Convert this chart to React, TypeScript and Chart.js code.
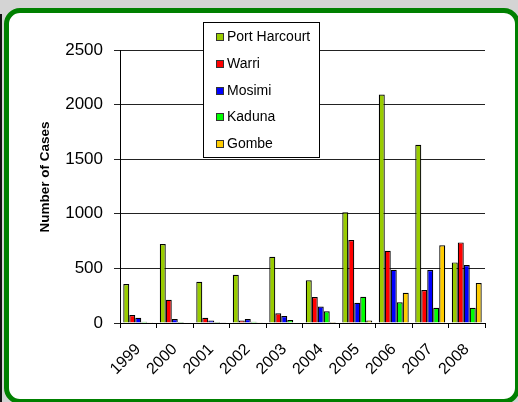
import React, { useEffect, useRef } from "react";
import { Chart, registerables } from "chart.js";

Chart.register(...registerables);

const years = ["1999", "2000", "2001", "2002", "2003", "2004", "2005", "2006", "2007", "2008"];
const portHarcourt = [357, 723, 378, 442, 607, 391, 1014, 2092, 1633, 555];
const warri = [73, 213, 48, 24, 89, 238, 760, 662, 302, 738];
const mosimi = [48, 37, 24, 37, 64, 150, 186, 488, 485, 531];
const kaduna = [12, 10, 10, 12, 27, 107, 241, 189, 140, 140];
const gombe = [8, 5, 3, 8, 5, 10, 24, 277, 711, 366];
const seriesNames = ["Port Harcourt", "Warri", "Mosimi", "Kaduna", "Gombe"];
const seriesColors = ["#99cc00", "#ff0000", "#0000ff", "#00ff00", "#ffcc00"];
const yTickStep = 500;
const yMax = 2500;
const yTitle = "Number of Cases";

const FONT = '"Liberation Sans", Arial, sans-serif';

const overlayPlugin = {
  id: "overlayPlugin",
  afterDraw(chart: any) {
    const ctx = chart.ctx;
    const ca = chart.chartArea;
    ctx.save();
    // legend box
    const lx = Math.round(ca.left + 83) + 0.5;
    const ly = Math.round(ca.top - 28) + 0.5;
    const lw = 116;
    const lh = 135;
    ctx.fillStyle = "#ffffff";
    ctx.fillRect(lx, ly, lw, lh);
    ctx.strokeStyle = "#000";
    ctx.lineWidth = 1;
    ctx.strokeRect(lx, ly, lw, lh);
    chart.data.datasets.forEach((ds: any, i: number) => {
      const cy = Math.round(ly + 14.5 + i * 26.75);
      ctx.fillStyle = ds.backgroundColor;
      ctx.fillRect(lx + 13, cy - 3.5, 7, 7);
      ctx.strokeStyle = "#333";
      ctx.strokeRect(lx + 13, cy - 3.5, 7, 7);
      ctx.fillStyle = "#000";
      ctx.font = "14px " + FONT;
      ctx.textBaseline = "middle";
      ctx.textAlign = "left";
      ctx.fillText(ds.label, lx + 23.5, cy + 0.5);
    });
    // y axis title
    ctx.translate(45, 177);
    ctx.rotate(-Math.PI / 2);
    ctx.font = "bold 13.5px " + FONT;
    ctx.textAlign = "center";
    ctx.textBaseline = "middle";
    ctx.fillStyle = "#000";
    ctx.fillText(yTitle, 0, 0);
    ctx.restore();
  },
};

export default function App() {
  const ref = useRef<HTMLCanvasElement | null>(null);

  useEffect(() => {
    if (!ref.current) return;
    const allSeries = [portHarcourt, warri, mosimi, kaduna, gombe];
    const chart = new Chart(ref.current, {
      type: "bar",
      data: {
        labels: years,
        datasets: allSeries.map((d, i) => ({
          label: seriesNames[i],
          data: d,
          backgroundColor: seriesColors[i],
          borderColor: "#000",
          borderWidth: 1.2,
          barPercentage: 1,
          categoryPercentage: 0.82,
        })),
      },
      options: {
        responsive: false,
        animation: false,
        layout: { padding: { left: 0, top: 50, right: 33, bottom: 0 } },
        plugins: {
          legend: { display: false },
          tooltip: { enabled: false },
          title: { display: false },
        },
        scales: {
          x: {
            afterFit: (s: any) => {
              s.height = 79;
            },
            grid: {
              offset: true,
              drawOnChartArea: false,
              drawTicks: true,
              tickLength: 5,
              color: "#000",
            },
            border: { display: true, color: "#000", width: 1 },
            ticks: {
              minRotation: 45,
              maxRotation: 45,
              autoSkip: false,
              color: "#000",
              padding: 12,
              font: { family: FONT, size: 16 },
            },
          },
          y: {
            min: 0,
            max: yMax,
            afterFit: (s: any) => {
              s.width = 120;
            },
            grid: {
              color: "#222",
              lineWidth: 1,
              tickLength: 6,
            },
            border: { display: true, color: "#000", width: 1 },
            ticks: {
              stepSize: yTickStep,
              color: "#000",
              padding: 11,
              font: { family: FONT, size: 17 },
              callback: (v: any) => String(v),
            },
          },
        },
      },
      plugins: [overlayPlugin],
    });
    return () => chart.destroy();
  }, []);

  return (
    <div
      style={{
        position: "fixed",
        left: 0,
        top: 0,
        width: 518,
        height: 402,
        background: "#d4d4d4",
        overflow: "hidden",
      }}
    >
      <div
        style={{
          position: "absolute",
          left: 0,
          top: 14,
          width: 2,
          height: 400,
          background: "#111",
        }}
      />
      <div
        style={{
          position: "absolute",
          left: 4,
          top: 8,
          width: 516,
          height: 396,
          boxSizing: "border-box",
          border: "5px solid #008000",
          borderRadius: 16,
          background: "#fff",
        }}
      />
      <canvas
        ref={ref}
        width={518}
        height={402}
        style={{ position: "absolute", left: 0, top: 0, width: 518, height: 402 }}
      />
    </div>
  );
}
